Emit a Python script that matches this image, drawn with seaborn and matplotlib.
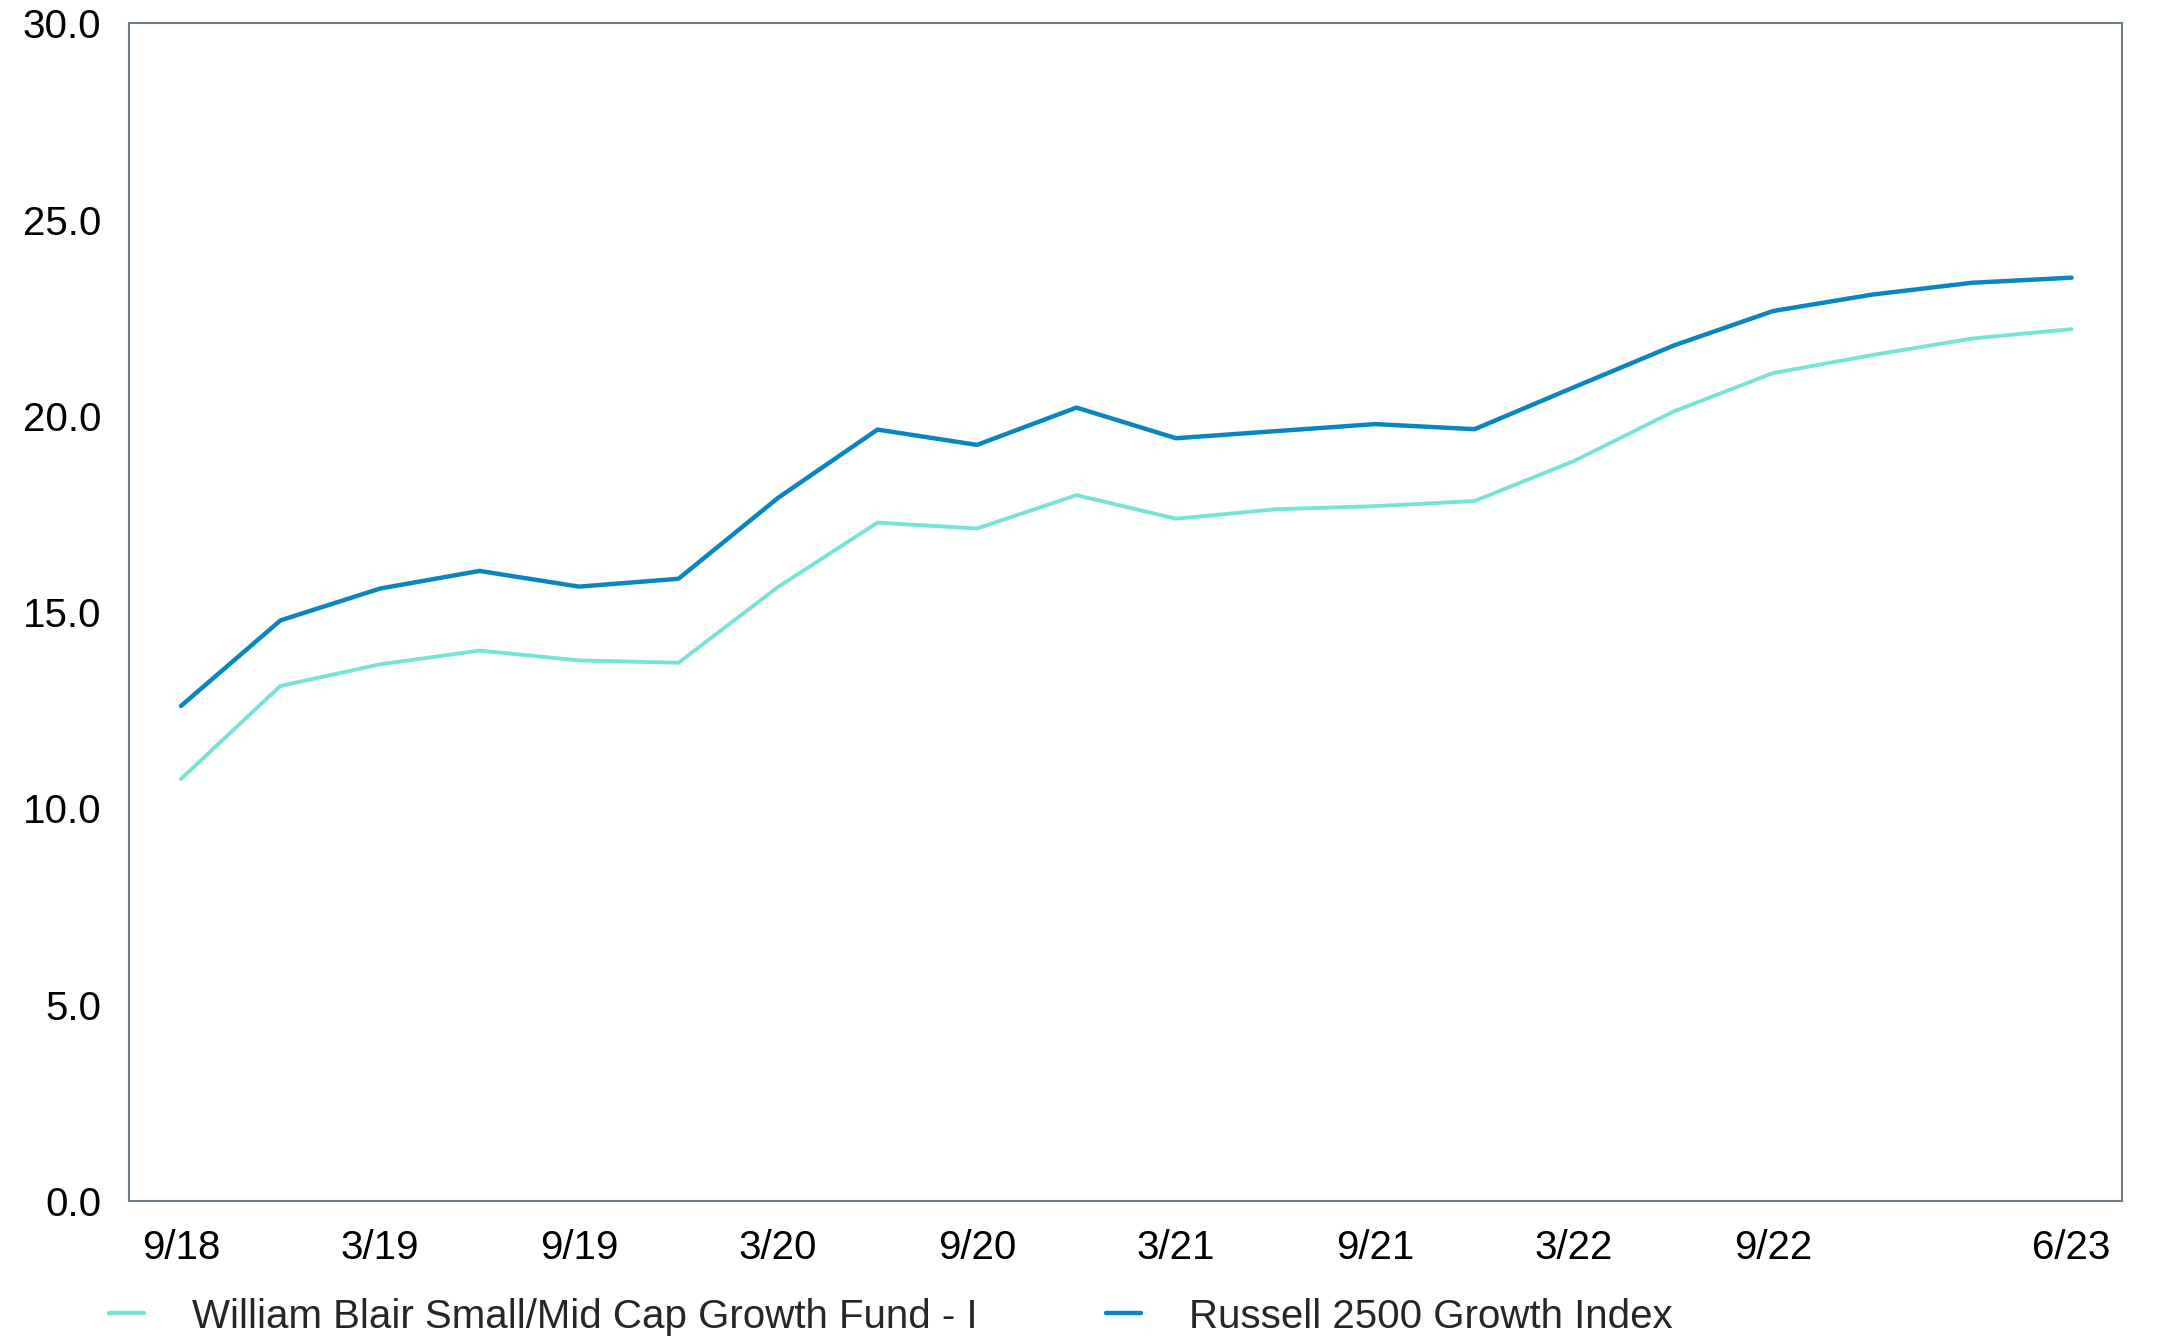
import numpy as np
import pandas as pd
import matplotlib
matplotlib.use("Agg")
import matplotlib.pyplot as plt
import seaborn as sns

# quarter-end dates, 9/18 .. 6/23
quarters = ["9/18", "12/18", "3/19", "6/19", "9/19", "12/19", "3/20", "6/20",
            "9/20", "12/20", "3/21", "6/21", "9/21", "12/21", "3/22", "6/22",
            "9/22", "12/22", "3/23", "6/23"]

fund_name = "William Blair Small/Mid Cap Growth Fund - I"
index_name = "Russell 2500 Growth Index"

fund_values = [10.75, 13.12, 13.67, 14.02, 13.77, 13.71, 15.64, 17.28,
               17.13, 17.98, 17.38, 17.62, 17.70, 17.83, 18.85, 20.11,
               21.09, 21.55, 21.97, 22.21]
index_values = [12.61, 14.79, 15.60, 16.05, 15.65, 15.85, 17.91, 19.65,
                19.26, 20.21, 19.43, 19.61, 19.79, 19.66, 20.73, 21.79,
                22.67, 23.09, 23.39, 23.52]

tick_idx = [0, 2, 4, 6, 8, 10, 12, 14, 16, 18, 19]
tick_labels = ["9/18", "3/19", "9/19", "3/20", "9/20", "3/21", "9/21",
               "3/22", "9/22", "", "6/23"]

fund_color = "#76e3d6"
index_color = "#0a86bf"

df = pd.DataFrame({
    "q": list(range(len(quarters))) * 2,
    "value": fund_values + index_values,
    "series": [fund_name] * len(quarters) + [index_name] * len(quarters),
})

sns.set_style("white")
plt.rcParams["font.family"] = ["Liberation Sans", "DejaVu Sans"]

fig = plt.figure(figsize=(21.79, 13.38), dpi=100)
ax = fig.add_axes([0.0593, 0.1024, 0.9147, 0.8802])

sns.lineplot(data=df, x="q", y="value", hue="series",
             palette={fund_name: fund_color, index_name: index_color},
             linewidth=3.2, ax=ax, legend=False)
# fund line slightly thinner
ax.lines[0].set_linewidth(2.8)

ax.set_xlim(-0.52, 19.51)
ax.set_ylim(0, 30)
ax.set_yticks(np.arange(0, 30.1, 5))
ax.set_yticklabels([f"{v:.1f}" for v in np.arange(0, 30.1, 5)])
ax.set_xticks(tick_idx)
ax.set_xticklabels(tick_labels)
ax.set_xlabel("")
ax.set_ylabel("")

for s in ax.spines.values():
    s.set_color("#6e7c88")
    s.set_linewidth(1.5)

ax.tick_params(axis="both", which="major", length=8, width=1.2,
               color="#d9d9d9", labelsize=29, labelcolor="black")
ax.tick_params(axis="x", pad=12)
ax.tick_params(axis="y", pad=12)

handles = [plt.Line2D([], [], color=fund_color, linewidth=3.2),
           plt.Line2D([], [], color=index_color, linewidth=3.2)]
fig.legend(handles, [fund_name, index_name], loc="center left",
           bbox_to_anchor=(0.041, 0.016), ncol=2, frameon=False,
           fontsize=29, handlelength=0.85, handletextpad=1.2,
           columnspacing=3.2, borderpad=0)

fig.savefig("out.png", dpi=100)
